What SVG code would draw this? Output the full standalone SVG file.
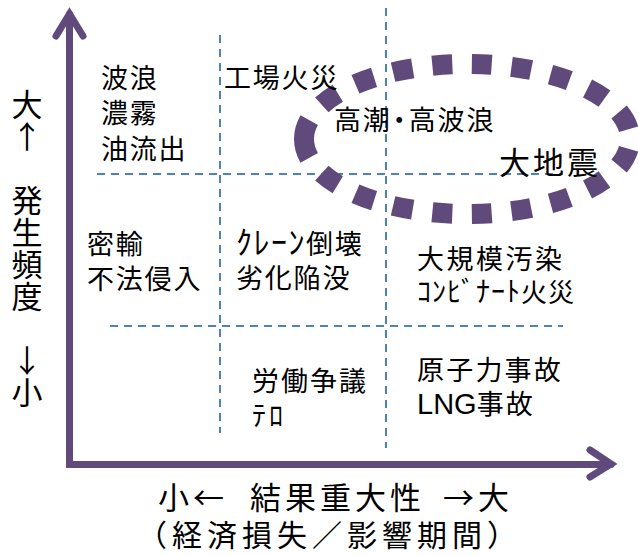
<svg xmlns="http://www.w3.org/2000/svg" width="638" height="555" viewBox="0 0 638 555">
  <style>
    .t { font-family: "Noto Sans CJK JP", "Noto Sans CJK SC", sans-serif; fill: #000; }
    .m { font-size: 27px; letter-spacing: 1.8px; }
    .ax { font-size: 31px; }
    .vert { writing-mode: vertical-rl; text-orientation: upright; letter-spacing: 1px; }
    .grid { stroke: #4F81BD; stroke-width: 2; stroke-dasharray: 8 6; fill: none; }
    .axis { stroke: #604A7B; stroke-width: 7; fill: none; stroke-linecap: round; stroke-linejoin: miter; }
    .ring { stroke: #604A7B; stroke-width: 20; fill: none; stroke-dasharray: 20 20; }
  </style>
  <rect width="638" height="555" fill="#fff"/>

  <g id="grid">
    <line class="grid" x1="220" y1="35" x2="220" y2="433"/>
    <line class="grid" x1="386" y1="8" x2="386" y2="448"/>
    <line class="grid" x1="97" y1="174" x2="563" y2="174"/>
    <line class="grid" x1="110" y1="326" x2="563" y2="326"/>
  </g>

  <g id="connectors">
    <path class="axis" d="M69.5,14 L69.5,464.5 L611,464.5" stroke-linecap="butt"/>
    <path class="axis" d="M56,36 L69.5,14 L83,36"/>
    <path class="axis" d="M590,450 L611,464 L590,477"/>
  </g>

  <g id="major-quake-zone">
    <path class="ring" pathLength="780" d="M304,139 A163,75 0 1,1 630,139 A163,75 0 1,1 304,139 Z"/>
  </g>

  <g id="axis-y-label">
    <text class="t ax vert" x="27" y="89">大↑　発生頻度　↓小</text>
  </g>

  <g id="axis-x-label">
    <text class="t ax" y="509" style="letter-spacing:4px"><tspan x="158">小←</tspan> <tspan x="250">結果重大性</tspan> <tspan x="443">→大</tspan></text>
    <text class="t" x="137" y="546" style="font-size:30px;letter-spacing:5px">（経済損失／影響期間）</text>
  </g>

  <g id="node-waves">
    <text class="t m" x="101" y="88">波浪</text>
    <text class="t m" x="101" y="123">濃霧</text>
    <text class="t m" x="101" y="159">油流出</text>
  </g>

  <g id="node-factory-fire">
    <text class="t m" x="224" y="88">工場火災</text>
  </g>

  <g id="node-storm-surge">
    <text class="t m" x="334" y="130">高<tspan style="letter-spacing:-4px">潮・</tspan>高波浪</text>
  </g>

  <g id="node-earthquake">
    <text class="t ax" x="499" y="174" style="letter-spacing:3px">大地震</text>
  </g>

  <g id="node-smuggling">
    <text class="t m" x="87" y="254">密輸</text>
    <text class="t m" x="87" y="289">不法侵入</text>
  </g>

  <g id="node-crane">
    <text class="t m" x="236" y="254"><tspan style="font-size:32px;letter-spacing:1.5px">ｸﾚｰﾝ</tspan>倒壊</text>
    <text class="t m" x="236" y="288">劣化陥没</text>
  </g>

  <g id="node-pollution">
    <text class="t m" x="417" y="269" style="letter-spacing:2.5px">大規模汚染</text>
    <text class="t" x="417" y="302" style="font-size:26px"><tspan style="font-size:28px;letter-spacing:1px">ｺﾝﾋﾞﾅｰﾄ</tspan><tspan style="letter-spacing:1px">火災</tspan></text>
  </g>

  <g id="node-labor">
    <text class="t m" x="252" y="391" style="letter-spacing:2px">労働争議</text>
    <text class="t" x="252" y="426" style="font-size:28px;letter-spacing:3px">ﾃﾛ</text>
  </g>

  <g id="node-nuclear">
    <text class="t m" x="417" y="380" style="letter-spacing:2.2px">原子力事故</text>
    <text class="t m" x="417" y="414" style="letter-spacing:2px"><tspan style="font-family:'Liberation Sans', sans-serif;font-size:29px;letter-spacing:0">LNG</tspan>事故</text>
  </g>
</svg>
